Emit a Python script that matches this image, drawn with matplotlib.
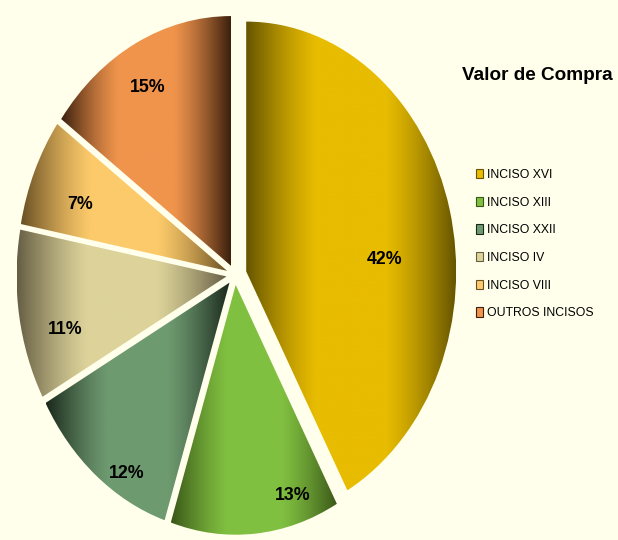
import numpy as np
import matplotlib
matplotlib.use('Agg')
import matplotlib.pyplot as plt
from matplotlib.colors import to_rgb
from matplotlib.patches import Patch

categories = ['INCISO XVI', 'INCISO XIII', 'INCISO XXII', 'INCISO IV', 'INCISO VIII', 'OUTROS INCISOS']
values = [42, 13, 12, 11, 7, 15]
pct_labels = ['42%', '13%', '12%', '11%', '7%', '15%']
title = 'Valor de Compra'

edge_colors = ['#665500', '#3A5618', '#1A281C', '#665E44', '#6A5024', '#3C200E']
mid_colors = ['#E8BC00', '#80C040', '#6E9A70', '#DDD39A', '#FCCA6A', '#F0944C']
explode = [0.055, 0.04, 0.04, 0.04, 0.04, 0.04]
label_dist = [0.71, 0.915, 0.936, 0.83, 0.78, 0.85]
label_shift = [-9.6, 12.0, 6.7, 6.2, 2.6, 1.9]

plt.rcParams['font.family'] = ['Liberation Sans', 'DejaVu Sans']

bg = '#FFFFEC'
fig = plt.figure(figsize=(6.18, 5.40), dpi=100, facecolor=bg)
ax = fig.add_axes([0.0026, -0.023, 0.755, 1.028])
ax.set_facecolor(bg)

wedges, texts = ax.pie(values, startangle=90, counterclock=False,
                       explode=explode, labels=pct_labels, radius=0.99,
                       labeldistance=1.0, wedgeprops=dict(linewidth=0))

t = np.linspace(0, 1, 256)
prof = np.clip(np.sin(np.pi * t) * 1.15, 0, 1)
for w, ec, mc in zip(wedges, edge_colors, mid_colors):
    bb = w.get_path().get_extents()
    c0 = np.array(to_rgb(ec))
    c1 = np.array(to_rgb(mc))
    img = c0[None, :] * (1 - prof[:, None]) + c1[None, :] * prof[:, None]
    im = ax.imshow(img[None, :, :], extent=[bb.x0, bb.x1, bb.y0, bb.y1],
                   aspect='auto', zorder=2, interpolation='bilinear')
    im.set_clip_path(w)
    w.set_facecolor('none')

for txt, d, s in zip(texts, label_dist, label_shift):
    x, y = txt.get_position()
    th = np.arctan2(y, x) + np.deg2rad(s)
    txt.set_position((d * np.cos(th), d * np.sin(th)))
    txt.set_ha('center')
    txt.set_va('center')
    txt.set_fontsize(12.8)
    txt.set_fontweight('bold')
    txt.set_zorder(5)

ax.set_aspect('auto')
ax.set_xlim(-1.1, 1.1)
ax.set_ylim(-1.1, 1.1)
ax.axis('off')

fig.text(462 / 618, 1 - 75 / 540, title, ha='left', va='center',
         fontsize=13.7, fontweight='bold')

handles = [Patch(facecolor=mc, edgecolor=ec, linewidth=0.8) for mc, ec in zip(mid_colors, edge_colors)]
fig.legend(handles, categories, loc='upper left',
           bbox_to_anchor=(476 / 618, 1 - 169 / 540), frameon=False,
           fontsize=8.8, handlelength=0.57, handleheight=0.8,
           handletextpad=0.33, labelspacing=1.28, borderaxespad=0, borderpad=0)

fig.savefig('out.png', dpi=100, facecolor=bg)
